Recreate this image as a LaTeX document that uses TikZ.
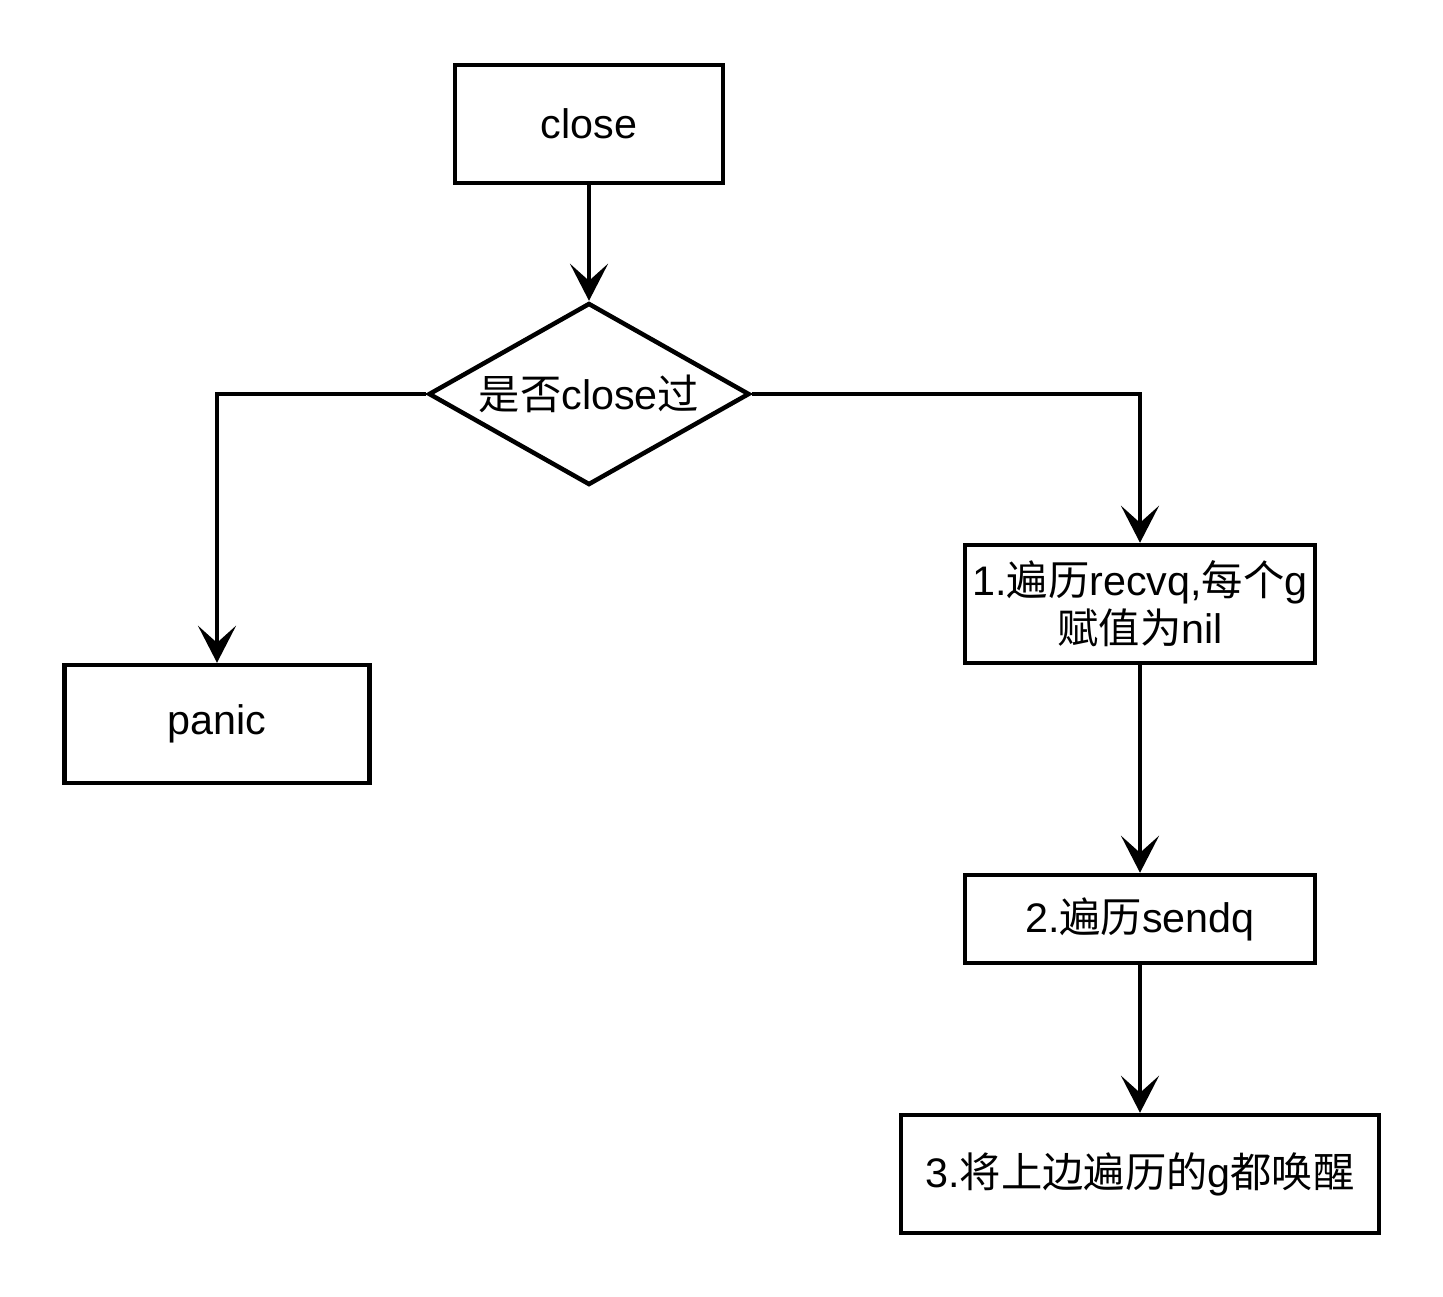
\documentclass[tikz,border=0pt]{standalone}
\usepackage{fontspec}
\setmainfont{Liberation Sans}
\newfontfamily\cjk{Noto Sans CJK SC}
\usetikzlibrary{arrows.meta,positioning,shapes.geometric}

\begin{document}
\begin{tikzpicture}[x=0.02cm, y=-0.02cm,
  stepbox/.style={draw=black, line width=0.09cm, fill=white, minimum height=2.36cm, font=\fontsize{23.5}{27.5}\selectfont, align=center, inner sep=0pt},
  choice/.style={draw=black, line width=0.09cm, diamond, aspect=1.76, minimum width=6.42cm, minimum height=3.64cm, font=\fontsize{23.5}{27.5}\selectfont, inner sep=0pt},
  flow/.style={-{Stealth[length=0.74cm, width=0.76cm, inset=0.34cm]}, line width=0.09cm}]
  \useasboundingbox (0,0) rectangle (1443,1296);

  % Start node
  \node[stepbox, minimum width=5.36cm] (close) at (589,124) {close};

  % Check node
  \node[choice] (chk) at (589,394) {{\cjk 是否}close{\cjk 过}};

  % Panic node
  \node[stepbox, minimum width=6.1cm] (panic) at (217,724) {panic};

  % Steps on the right
  \node[stepbox, minimum width=7.0cm] (recv) at (1140,604) {1.{\cjk 遍历}recvq,{\cjk 每个}g\\{\cjk 赋值为}nil};
  \node[stepbox, minimum width=7.0cm, minimum height=1.76cm] (send) at (1140,919) {2.{\cjk 遍历}sendq};
  \node[stepbox, minimum width=9.56cm] (wake) at (1140,1174) {3.{\cjk 将上边遍历的}g{\cjk 都唤醒}};

  % Connectors
  \draw[flow] (close.south) -- (chk.north);
  \draw[flow] (chk.west) -| (panic.north);
  \draw[flow] (chk.east) -| (recv.north);
  \draw[flow] (recv.south) -- (send.north);
  \draw[flow] (send.south) -- (wake.north);
\end{tikzpicture}
\end{document}
